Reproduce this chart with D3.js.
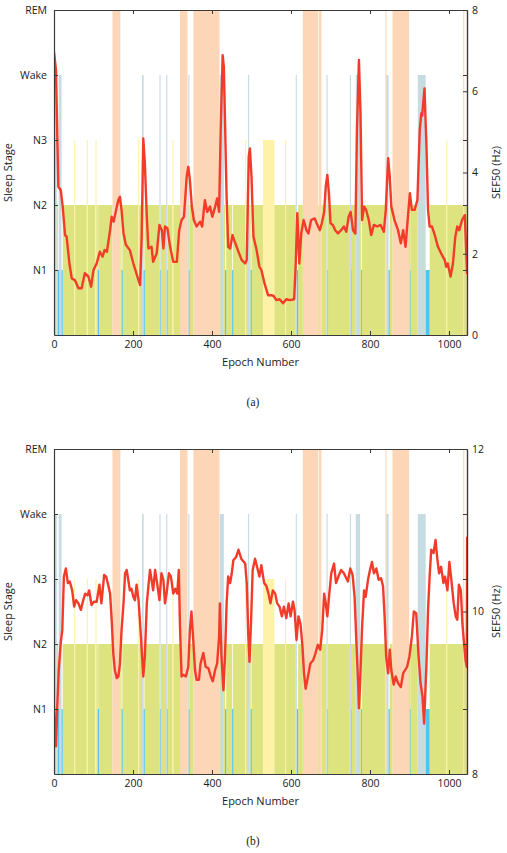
<!DOCTYPE html>
<html><head><meta charset="utf-8">
<script src="https://cdn.jsdelivr.net/npm/d3@7"></script>
<style>body{margin:0;background:#fff}svg text{font-family:"Open Sans",sans-serif}</style>
</head><body>
<svg id="c" width="507" height="853"></svg>
<script>
// ---------- data ----------
const stageNames = ["", "N1", "N2", "N3", "Wake", "REM"];
const stageTicks = [1, 2, 3, 4, 5];
const xTicks = [0, 200, 400, 600, 800, 1000];
const epochMax = 1045.6;
const epochEnd = 1046;
// hypnogram as runs: each run starts at runStart[i] and lasts until the next start
const runStart = [0,7,10,12,19,22,51,52,83,84,105,106,111,112,148,168,171,173,213,214,223,227,229,267,268,270,284,285,287,300,301,319,338,340,341,343,353,419,420,430,433,436,451,453,484,485,491,494,498,500,529,558,585,586,612,614,618,630,669,671,677,690,691,693,749,750,752,764,775,777,780,839,841,847,850,857,899,900,902,921,941,951,993,994,1036,1038];
const runStage = [4,2,1,4,1,2,3,2,3,2,3,2,1,2,5,2,1,2,3,2,4,1,2,4,1,2,4,1,2,3,2,5,2,4,1,2,5,2,4,2,1,2,1,2,3,2,4,2,1,2,3,2,3,2,4,1,2,5,2,5,2,4,1,2,4,1,2,4,2,1,2,5,4,1,2,5,2,1,2,4,1,2,3,2,5,2];

// SEF50 series, panel (a)
const sefAEpoch = [0,5,11,17,22,28,32,39,45,53,62,70,78,87,94,100,108,116,123,128,134,142,146,151,159,163,167,171,176,182,192,201,211,218,222,226,230,235,239,247,251,260,267,273,277,281,287,294,302,311,317,323,329,336,340,344,349,354,361,370,375,382,388,395,401,408,413,418,422,427,430,437,441,446,452,456,467,475,484,488,493,496,500,505,513,520,525,533,542,550,556,563,571,580,588,597,608,612,616,621,626,632,639,644,651,660,665,673,678,684,688,692,696,700,706,712,719,727,734,740,746,751,757,763,767,772,776,780,785,790,797,803,810,818,827,835,840,846,850,854,862,871,878,884,890,896,901,906,913,920,926,930,932,938,943,947,951,957,964,972,980,989,993,997,1004,1010,1016,1021,1026,1033,1040,1046];
const sefAValue = [6.97,6.52,3.65,3.57,3.16,2.46,2.42,1.76,1.39,1.35,1.15,1.15,1.52,1.44,1.19,1.60,1.76,2.05,1.93,2.09,2.05,2.58,2.91,2.79,3.16,3.32,3.40,3.08,2.50,2.22,2.09,1.76,1.44,1.23,2.42,4.84,4.23,2.91,2.13,2.17,1.80,2.01,2.71,2.58,2.13,2.67,2.63,2.17,1.80,1.80,2.58,2.83,2.91,3.90,4.14,3.82,3.16,2.83,2.67,2.79,2.67,3.32,3.03,3.16,2.91,3.16,3.36,3.03,5.05,6.89,6.60,3.40,2.17,2.13,2.46,2.34,2.05,1.85,1.76,1.85,4.39,4.59,3.90,2.42,2.09,1.68,1.60,1.27,0.98,0.98,0.96,0.86,0.88,0.78,0.88,0.86,0.88,1.76,3.00,1.76,2.50,2.83,2.58,2.50,2.83,2.87,2.75,2.58,2.75,3.03,3.65,3.94,3.50,2.75,2.71,2.58,2.50,2.58,2.67,2.54,2.91,3.03,2.58,2.50,5.05,6.77,5.46,2.83,3.16,3.08,2.83,2.46,2.71,2.67,2.71,2.54,3.08,4.35,3.90,3.16,2.83,2.58,2.26,2.58,2.17,2.91,3.49,3.08,3.08,3.32,5.05,5.46,5.40,6.07,4.64,3.08,2.67,2.67,2.46,2.17,2.01,1.85,1.68,1.76,1.44,1.76,2.42,2.67,2.58,2.83,2.95,1.50];

// SEF50 series, panel (b)
const sefBEpoch = [0,3,5,8,12,17,21,25,30,35,40,46,51,56,62,68,74,79,85,89,95,101,108,115,120,127,132,138,142,146,150,154,159,163,167,171,176,180,184,188,192,196,201,205,209,214,218,222,226,230,235,239,243,247,251,256,261,267,272,277,281,285,291,296,302,307,312,316,319,323,327,334,340,344,348,353,357,361,367,371,378,384,391,397,402,408,413,418,420,424,429,433,437,441,446,450,454,461,467,474,484,488,492,495,499,503,509,514,520,525,532,538,543,548,554,560,565,571,577,582,588,594,599,605,609,614,619,624,629,633,637,643,649,656,661,668,674,679,684,688,692,697,702,709,714,720,727,734,740,744,750,756,761,765,770,772,775,780,785,789,795,800,805,810,816,822,828,833,837,841,846,850,854,860,865,871,878,884,889,894,900,906,911,917,923,928,933,937,943,947,951,955,961,966,970,975,980,986,990,996,1001,1006,1012,1017,1021,1025,1030,1034,1038,1042,1045,1046];
const sefBValue = [8.83,8.50,8.34,8.79,9.28,9.61,9.77,10.43,10.53,10.35,10.37,10.26,10.06,10.14,10.10,10.02,10.14,10.22,10.20,10.26,10.08,10.12,10.12,10.33,10.10,10.45,10.43,10.31,10.22,9.90,9.49,9.28,9.18,9.20,9.36,9.77,10.10,10.47,10.51,10.39,10.26,10.28,10.18,10.14,10.33,10.14,9.85,9.53,9.20,9.45,10.10,10.31,10.51,10.39,10.26,10.51,10.35,10.14,10.47,10.39,10.10,10.22,10.47,10.43,10.22,10.28,10.22,10.51,9.81,9.20,9.22,9.20,9.32,9.77,10.00,9.61,9.28,9.16,9.16,9.36,9.49,9.32,9.30,9.20,9.14,9.28,9.36,9.69,10.10,9.45,9.03,9.45,10.10,10.43,10.35,10.47,10.63,10.67,10.76,10.65,10.59,10.35,9.69,9.38,9.90,10.51,10.65,10.55,10.43,10.57,10.35,10.31,10.22,10.10,10.26,10.22,10.10,10.06,9.94,10.06,9.92,10.10,9.94,10.12,10.02,9.65,9.94,9.85,9.57,9.24,9.05,9.20,9.36,9.40,9.47,9.59,9.53,9.77,10.22,10.10,9.94,10.22,10.47,10.59,10.35,10.43,10.51,10.47,10.41,10.37,10.53,10.45,10.18,9.69,9.12,8.81,9.12,9.81,10.26,10.18,10.39,10.51,10.61,10.47,10.53,10.39,10.41,10.31,9.94,9.44,9.24,9.53,9.28,9.10,9.20,9.12,9.07,9.24,9.28,9.32,9.45,9.69,10.00,9.98,9.45,9.12,8.95,8.62,9.36,10.02,10.43,10.76,10.72,10.88,10.67,10.47,10.55,10.35,10.43,10.26,10.61,10.39,10.10,9.94,9.90,10.33,10.26,9.85,9.61,9.40,9.32,10.92];

const sefATicks = [0, 2, 4, 6, 8];
const sefBTicks = [8, 10, 12];
const captions = ["(a)", "(b)"];

// ---------- drawing ----------
const stageColor = {1: "#4cc6ea", 2: "#dde37e", 3: "#fdf2a8", 4: "#c6dbe2", 5: "#fcd6b6"};
const svg = d3.select("#c");
const L = 54, R = 467;
const x = d3.scaleLinear().domain([0, epochMax]).range([L, R]);
const intFmt = d3.format("d");

const runs = runStart.map((s, i) => ({
  start: s,
  end: i < runStart.length - 1 ? runStart[i + 1] : epochEnd,
  stage: runStage[i]
}));

function panel(idx, top, bottom, sefEpoch, sefValue, sefDomain, sefTicks) {
  const g = svg.append("g");
  const yStage = d3.scaleLinear().domain([0, 5]).range([bottom, top]);
  const ySef = d3.scaleLinear().domain(sefDomain).range([bottom, top]);
  const clipId = "clip" + idx;
  g.append("clipPath").attr("id", clipId).append("rect")
    .attr("x", L).attr("y", top).attr("width", R - L).attr("height", bottom - top);
  const plot = g.append("g").attr("clip-path", `url(#${clipId})`);

  // wide runs first, narrow on top
  const sorted = runs.slice().sort((a, b) => (b.end - b.start) - (a.end - a.start));
  plot.selectAll("rect.run").data(sorted).join("rect")
    .attr("class", "run")
    .attr("x", d => x(d.start))
    .attr("width", d => Math.max(x(d.end) - x(d.start), 1.1))
    .attr("y", d => yStage(d.stage))
    .attr("height", d => yStage(0) - yStage(d.stage))
    .attr("fill", d => stageColor[d.stage]);

  const pts = sefEpoch.map((e, i) => [e, sefValue[i]]);
  plot.append("path").datum(pts)
    .attr("fill", "none").attr("stroke", "#f23b28").attr("stroke-width", 2.4)
    .attr("stroke-linejoin", "round")
    .attr("d", d3.line().x(d => x(d[0])).y(d => ySef(d[1])));

  const axisColor = "#3a3a3a";
  const styleAxis = sel => {
    sel.selectAll("path.domain").attr("stroke", axisColor).attr("stroke-width", 1.2);
    sel.selectAll(".tick line").attr("stroke", axisColor);
    sel.selectAll(".tick text").attr("fill", "#1a1a1a").style("font-size", "10.5px");
  };
  // bottom x axis
  g.append("g").attr("transform", `translate(0,${bottom})`)
    .call(d3.axisBottom(x).tickValues(xTicks).tickFormat(intFmt).tickSizeInner(-4).tickSizeOuter(0).tickPadding(6))
    .call(styleAxis);
  // top mirror
  g.append("g").attr("transform", `translate(0,${top})`)
    .call(d3.axisTop(x).tickValues(xTicks).tickFormat("").tickSizeInner(-4).tickSizeOuter(0))
    .call(styleAxis);
  // left stage axis
  g.append("g").attr("transform", `translate(${L},0)`)
    .call(d3.axisLeft(yStage).tickValues(stageTicks).tickFormat(d => stageNames[d]).tickSizeInner(-4).tickSizeOuter(0).tickPadding(7))
    .call(styleAxis);
  // right mirror of stage ticks
  g.append("g").attr("transform", `translate(${R},0)`)
    .call(d3.axisRight(yStage).tickValues(stageTicks).tickFormat("").tickSizeInner(-4).tickSizeOuter(0))
    .call(styleAxis);
  // right SEF axis
  g.append("g").attr("transform", `translate(${R},0)`)
    .call(d3.axisRight(ySef).tickValues(sefTicks).tickFormat(intFmt).tickSizeInner(-4).tickSizeOuter(0).tickPadding(5))
    .call(styleAxis);

  const mid = (top + bottom) / 2;
  g.append("text").attr("transform", `translate(12,${mid}) rotate(-90)`)
    .attr("text-anchor", "middle").style("font-size", "11px").attr("fill", "#1a1a1a").text("Sleep Stage");
  g.append("text").attr("transform", `translate(500,${mid}) rotate(-90)`)
    .attr("text-anchor", "middle").style("font-size", "11px").attr("fill", "#1a1a1a").text("SEF50 (Hz)");
  g.append("text").attr("x", (L + R) / 2).attr("y", bottom + 31)
    .attr("text-anchor", "middle").style("font-size", "11px").attr("fill", "#1a1a1a").text("Epoch Number");
  g.append("text").attr("x", 253).attr("y", bottom + 71)
    .attr("text-anchor", "middle").style("font-size", "11.5px")
    .style("font-family", "'Liberation Serif','DejaVu Serif',serif").attr("fill", "#222").text(captions[idx]);
}

panel(0, 10, 335, sefAEpoch, sefAValue, [0, 8], sefATicks);
panel(1, 449, 774, sefBEpoch, sefBValue, [8, 12], sefBTicks);
</script>
</body></html>
